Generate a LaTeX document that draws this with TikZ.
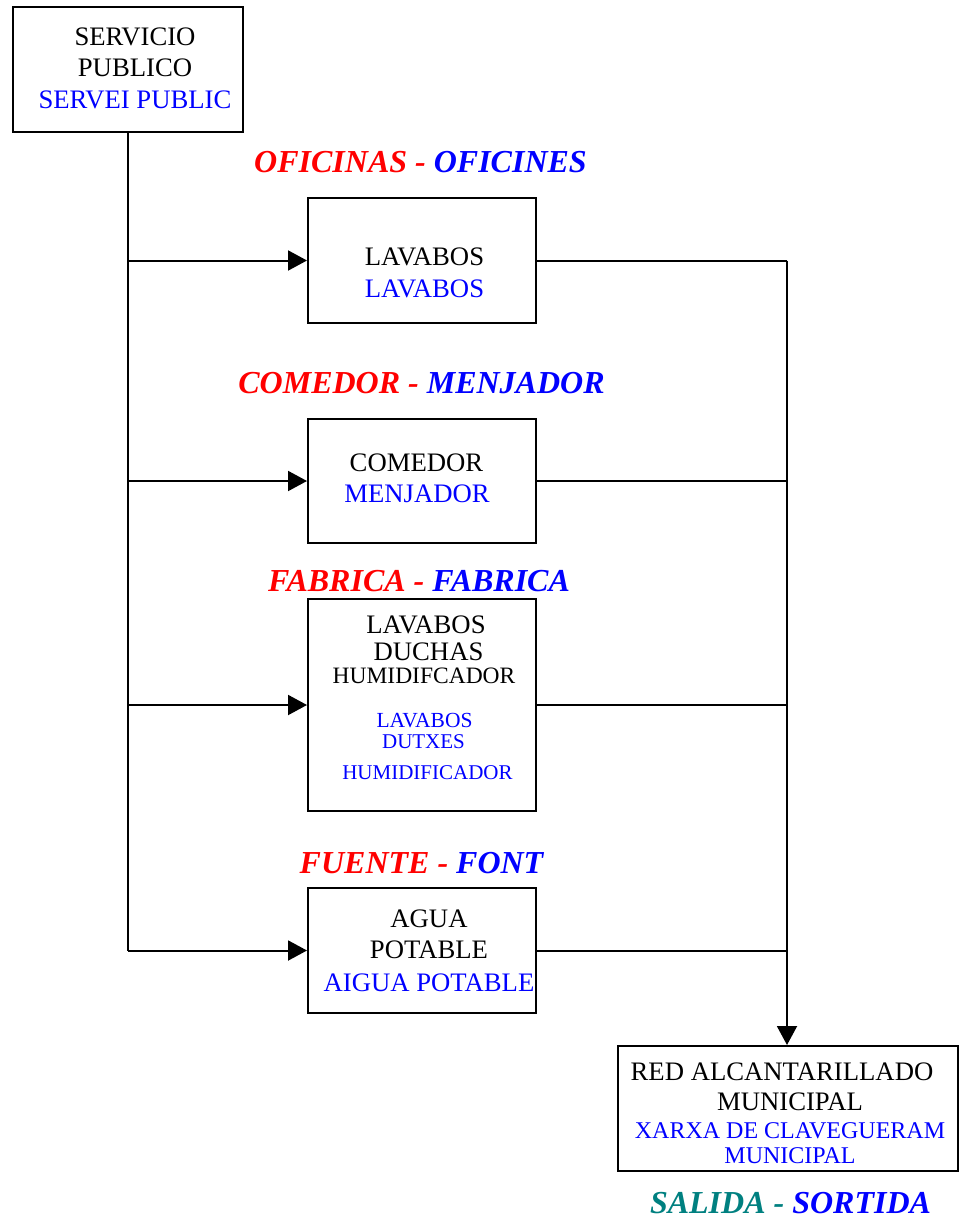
\documentclass[tikz,border=0pt]{standalone}
\usepackage{fontspec}
\setmainfont{Liberation Serif}
\usetikzlibrary{arrows.meta}
\definecolor{myred}{RGB}{255,0,0}
\definecolor{myblue}{RGB}{0,0,255}
\definecolor{myteal}{RGB}{0,128,128}
\newcommand{\bigt}{\fontsize{26.7}{32}\selectfont}
\newcommand{\midt}{\fontsize{24}{28}\selectfont}
\newcommand{\smt}{\fontsize{23.5}{26}\selectfont}
\newcommand{\smbt}{\fontsize{21.5}{24}\selectfont}
\newcommand{\headt}{\fontsize{32}{36}\selectfont\bfseries\itshape}
\begin{document}
\begin{tikzpicture}[x=1pt,y=-1pt,
  box/.style={draw=black,line width=2pt,rectangle,inner sep=0pt},
  lbl/.style={anchor=base,inner sep=0pt,font=\bigt},
  blbl/.style={anchor=base,inner sep=0pt,font=\bigt,text=myblue},
  head/.style={anchor=base,inner sep=0pt,font=\headt},
  conn/.style={draw=black,line width=2pt},
  arr/.style={conn,-{Triangle[length=19pt,width=20pt]}}]
\useasboundingbox (0,0) rectangle (960,1220);
% boxes
\node[box,minimum width=230pt,minimum height=125pt] (sp) at (128,69.5) {};
\node[box,minimum width=228pt,minimum height=125pt] (b1) at (422,260.5) {};
\node[box,minimum width=228pt,minimum height=124pt] (b2) at (422,481) {};
\node[box,minimum width=228pt,minimum height=212pt] (b3) at (422,705) {};
\node[box,minimum width=228pt,minimum height=125pt] (b4) at (422,950.5) {};
\node[box,minimum width=340pt,minimum height=125pt] (red) at (788,1108.5) {};
\coordinate (bus) at (787,0);
% texts
\node[lbl] (t1) at (135,45.5) {SERVICIO};
\node[lbl] (t2) at (135,77) {PUBLICO};
\node[blbl] (t3) at (135,109) {SERVEI PUBLIC};
\node[lbl] (t4) at (424.5,265) {LAVABOS};
\node[blbl] (t5) at (424.5,297) {LAVABOS};
\node[lbl] (t6) at (416.5,471) {COMEDOR};
\node[blbl] (t7) at (417,502) {MENJADOR};
\node[lbl] (t8) at (426,633) {LAVABOS};
\node[lbl] (t9) at (428.5,660) {DUCHAS};
\node[lbl,font=\smt] (t10) at (424,683) {HUMIDIFCADOR};
\node[blbl,font=\smbt] (t11) at (424.5,727) {LAVABOS};
\node[blbl,font=\fontsize{21}{24}\selectfont] (t12) at (423.5,748) {DUTXES};
\node[blbl,font=\fontsize{21}{24}\selectfont] (t13) at (427.5,779) {HUMIDIFICADOR};
\node[lbl] (t14) at (429,927) {AGUA};
\node[lbl] (t15) at (429,958) {POTABLE};
\node[blbl] (t16) at (429,991) {AIGUA POTABLE};
\node[lbl] (t17) at (782,1080) {RED ALCANTARILLADO};
\node[lbl] (t18) at (790,1110) {MUNICIPAL};
\node[blbl,font=\midt] (t19) at (790,1138) {XARXA DE CLAVEGUERAM};
\node[blbl,font=\midt] (t20) at (790,1163) {MUNICIPAL};
% headings
\node[head] (h1) at (420.5,172) {\textcolor{myred}{OFICINAS -} \textcolor{myblue}{OFICINES}};
\node[head] (h2) at (421.5,393) {\textcolor{myred}{COMEDOR -} \textcolor{myblue}{MENJADOR}};
\node[head] (h3) at (419,591) {\textcolor{myred}{FABRICA -} \textcolor{myblue}{FABRICA}};
\node[head] (h4) at (421.5,873) {\textcolor{myred}{FUENTE -} \textcolor{myblue}{FONT}};
\node[head] (h5) at (790.5,1213) {\textcolor{myteal}{SALIDA -} \textcolor{myblue}{SORTIDA}};
% connectors
\draw[conn] (sp.south) -- (sp.south |- b4.west);
\draw[arr] (sp.south |- b1.west) -- (b1.west);
\draw[arr] (sp.south |- b2.west) -- (b2.west);
\draw[arr] (sp.south |- b3.west) -- (b3.west);
\draw[arr] (sp.south |- b4.west) -- (b4.west);
\draw[conn] (b1.east) -- (b1.east -| bus);
\draw[conn] (b2.east) -- (b2.east -| bus);
\draw[conn] (b3.east) -- (b3.east -| bus);
\draw[conn] (b4.east) -- (b4.east -| bus);
\draw[arr] (b1.east -| bus) -- (bus |- red.north);
\end{tikzpicture}
\end{document}
